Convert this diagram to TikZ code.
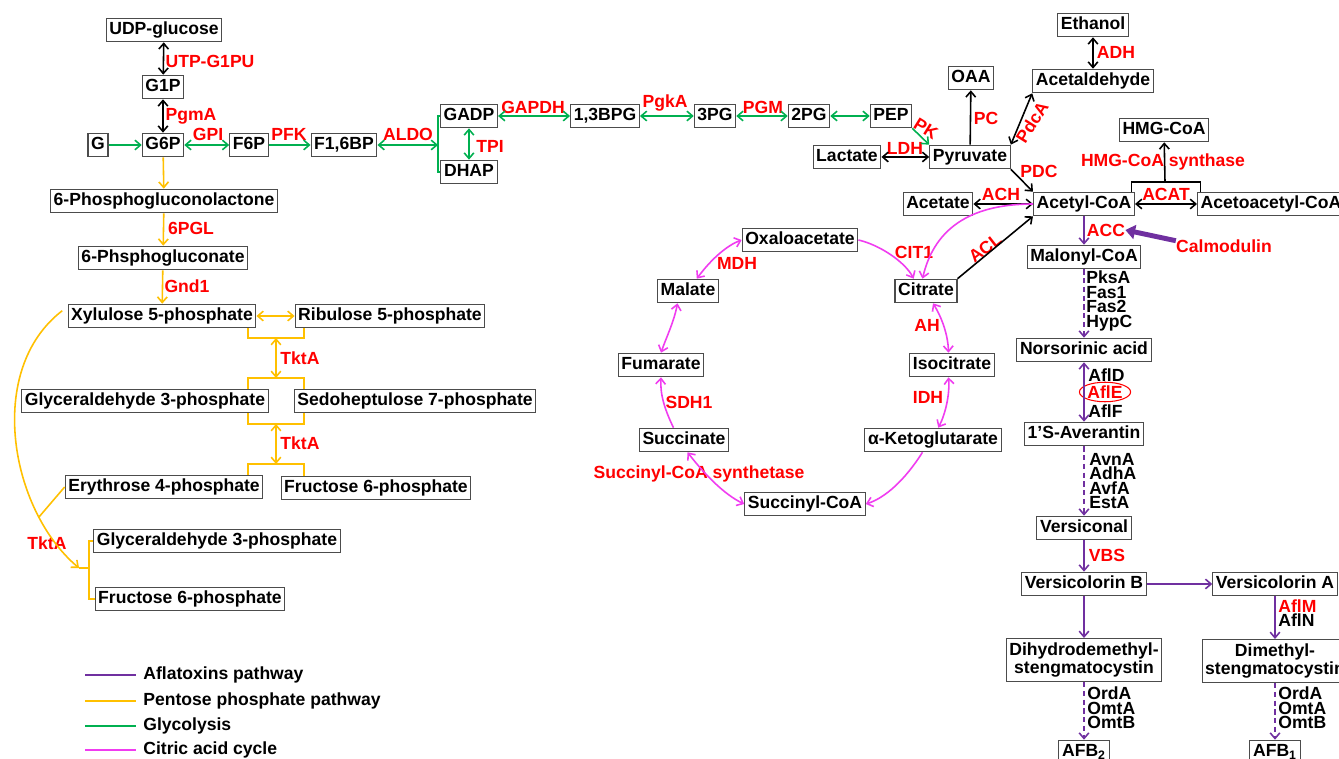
\documentclass[tikz,border=0pt]{standalone}
\usepackage{fontspec}
\setmainfont{Liberation Sans}
\usepackage{tikz}
\usetikzlibrary{shapes}
\usetikzlibrary{arrows.meta}
\usetikzlibrary{positioning}
\usetikzlibrary{calc}
\definecolor{glyc}{RGB}{0,176,80}
\definecolor{ppp}{RGB}{255,192,0}
\definecolor{tca}{RGB}{240,60,240}
\definecolor{afl}{RGB}{112,48,160}
\definecolor{enzred}{RGB}{255,0,0}
\newcommand{\figfont}{\fontsize{10}{12}\selectfont\bfseries}
\tikzstyle{metab}=[rectangle, draw=black!70, line width=0.6pt,
        inner xsep=1.8pt, inner ysep=2pt,
        text height=7.3pt, text depth=2.1pt, font=\figfont]
\tikzstyle{metabii}=[rectangle, draw=black!70, line width=0.6pt, align=center,
        inner xsep=1.8pt, inner ysep=2.3pt,
        font=\fontsize{10}{10.5}\selectfont\bfseries]
\tikzstyle{enz}=[text=enzred, inner sep=0pt, font=\figfont]
\tikzstyle{genes}=[align=left, anchor=west, inner sep=0pt,
        font=\fontsize{10}{8.2}\selectfont\bfseries]
\tikzstyle{flow}=[->,>={Straight Barb[length=3.2pt,width=5.5pt]},line width=0.9pt]
\tikzstyle{blackflow}=[flow,black]
\tikzstyle{glyflow}=[flow,glyc]
\tikzstyle{pppflow}=[flow,ppp]
\tikzstyle{tcaflow}=[flow,tca]
\tikzstyle{aflflow}=[flow,afl]
\tikzstyle{afldash}=[aflflow,dash pattern=on 3pt off 2pt]
\tikzstyle{calmod}=[-{Triangle[length=5.5pt,width=8pt]},afl,line width=2.8pt]
\tikzstyle{legtext}=[anchor=west,inner sep=0pt,font=\figfont]

\begin{document}
\begin{tikzpicture}[x=0.02cm,y=-0.02cm]
\path[use as bounding box,fill=white] (0,0) rectangle (1339,759);
% glycolysis and pyruvate
\node[metab] (UDPglc) at (164,30) {UDP-glucose};
\node[metab] (G1P) at (163,87) {G1P};
\node[metab] (G) at (98,145) {G};
\node[metab] (G6P) at (163,145) {G6P};
\node[metab] (F6P) at (249,145) {F6P};
\node[metab] (F16BP) at (344,145) {F1,6BP};
\node[metab] (GADP) at (469,116) {GADP};
\node[metab] (DHAP) at (469,172) {DHAP};
\node[metab] (BPG13) at (605,116) {1,3BPG};
\node[metab] (PG3) at (715,116) {3PG};
\node[metab] (PG2) at (809,116) {2PG};
\node[metab] (PEP) at (891,116) {PEP};
\node[metab] (Lac) at (847,157) {Lactate};
\node[metab] (Pyr) at (970,157) {Pyruvate};
\node[metab] (OAA) at (971,78) {OAA};
\node[metab] (EtOH) at (1093,25) {Ethanol};
\node[metab] (AcAld) at (1093,81) {Acetaldehyde};
\node[metab] (HMG) at (1164,130) {HMG-CoA};
\node[metab] (Acet) at (938,204) {Acetate};
\node[metab] (AcCoA) at (1084,204) {Acetyl-CoA};
\node[metab,anchor=west] (AcacCoA) at (1197,204) {Acetoacetyl-CoA};
% pentose phosphate pathway
\node[metab] (PGL6) at (164,201) {6-Phosphogluconolactone};
\node[metab] (PGA6) at (163,258) {6-Phsphogluconate};
\node[metab] (Xu5P) at (162,316) {Xylulose 5-phosphate};
\node[metab] (Ru5P) at (390,316) {Ribulose 5-phosphate};
\node[metab] (GA3P) at (145,401) {Glyceraldehyde 3-phosphate};
\node[metab] (S7P) at (415,401) {Sedoheptulose 7-phosphate};
\node[metab] (E4P) at (164,487) {Erythrose 4-phosphate};
\node[metab] (F6Pb) at (376,488) {Fructose 6-phosphate};
\node[metab] (GA3Pb) at (217,541) {Glyceraldehyde 3-phosphate};
\node[metab] (F6Pc) at (190,599) {Fructose 6-phosphate};
% citric acid cycle
\node[metab] (Oxa) at (800,240) {Oxaloacetate};
\node[metab] (Mal) at (688,291) {Malate};
\node[metab] (Cit) at (926,291) {Citrate};
\node[metab] (Fum) at (661,365) {Fumarate};
\node[metab] (Icit) at (952,365) {Isocitrate};
\node[metab] (Suc) at (684,440) {Succinate};
\node[metab] (AKG) at (933,440) {α-Ketoglutarate};
\node[metab] (SucCoA) at (805,504) {Succinyl-CoA};
% aflatoxins
\node[metab] (MalCoA) at (1084,257) {Malonyl-CoA};
\node[metab] (Nor) at (1084,350) {Norsorinic acid};
\node[metab] (Ave) at (1084,434) {1’S-Averantin};
\node[metab] (Ver) at (1084,528) {Versiconal};
\node[metab] (VerB) at (1084,584) {Versicolorin B};
\node[metab] (VerA) at (1275,584) {Versicolorin A};
\node[metabii] (DHDMST) at (1084,660) {Dihydrodemethyl-\\stengmatocystin};
\node[metabii] (DMST) at (1275,661) {Dimethyl-\\stengmatocystin};
\node[metab] (AFB2) at (1084,752) {AFB\textsubscript{2}};
\node[metab] (AFB1) at (1275,752) {AFB\textsubscript{1}};
% enzymes
\node[enz] (lUTP) at (210,61) {UTP-G1PU};
\node[enz] (lPgmA) at (191,116) {PgmA};
\node[enz] (lGPI) at (208,134) {GPI};
\node[enz] (lPFK) at (289,134) {PFK};
\node[enz] (lALDO) at (408,134) {ALDO};
\node[enz] (lTPI) at (490,146) {TPI};
\node[enz] (lGAPDH) at (533,107) {GAPDH};
\node[enz] (lPgkA) at (665,103) {PgkA};
\node[enz] (lPGM) at (763,107) {PGM};
\node[enz,rotate=-32] (lPK) at (926,129) {PK};
\node[enz] (lLDH) at (905,148) {LDH};
\node[enz] (lPC) at (986,118) {PC};
\node[enz,rotate=58] (lPdcA) at (1032,122) {PdcA};
\node[enz] (lADH) at (1116,52) {ADH};
\node[enz] (lPDC) at (1039,171) {PDC};
\node[enz] (lHMGS) at (1163,162) {HMG-CoA synthase};
\node[enz] (lACAT) at (1166,194) {ACAT};
\node[enz] (lACH) at (1001,194) {ACH};
\node[enz] (lACC) at (1106,230) {ACC};
\node[enz] (lCalm) at (1224,246) {Calmodulin};
\node[enz] (lCIT1) at (914,252) {CIT1};
\node[enz,rotate=38] (lACL) at (985,248) {ACL};
\node[enz] (lMDH) at (737,263) {MDH};
\node[enz] (lAH) at (927,325) {AH};
\node[enz] (lIDH) at (928,397) {IDH};
\node[enz] (lSDH1) at (689,402) {SDH1};
\node[enz] (lSCS) at (699,474) {Succinyl-CoA synthetase};
\node[enz] (l6PGL) at (191,228) {6PGL};
\node[enz] (lGnd1) at (187,286) {Gnd1};
\node[enz] (lTkt1) at (300,358) {TktA};
\node[enz] (lTkt2) at (300,443) {TktA};
\node[enz] (lTkt3) at (47,543) {TktA};
\node[enz] (lVBS) at (1107,555) {VBS};
\node[genes] (gPks) at (1086,301) {PksA\\Fas1\\Fas2\\HypC};
\node[genes] (gAflD) at (1088,375) {AflD};
\node[enz,ellipse,draw=enzred,line width=0.6pt,inner sep=0.3pt] (lAflE) at (1105,392) {AflE};
\node[genes] (gAflF) at (1088,411) {AflF};
\node[genes] (gAvn) at (1089,481) {AvnA\\AdhA\\AvfA\\EstA};
\node[genes] (gAflM) at (1278,613) {\color{enzred}AflM\\AflN};
\node[genes] (gOrd2) at (1087,708) {OrdA\\OmtA\\OmtB};
\node[genes] (gOrd1) at (1278,708) {OrdA\\OmtA\\OmtB};
% legend
\node[legtext] (legAfl) at (143,675) {Aflatoxins pathway};
\node[legtext] (legPpp) at (143,701) {Pentose phosphate pathway};
\node[legtext] (legGly) at (143,726) {Glycolysis};
\node[legtext] (legTca) at (143,750) {Citric acid cycle};
\draw[afl,line width=0.9pt] ([xshift=-4pt]legAfl.west) -- ++(-51,0);
\draw[ppp,line width=0.9pt] ([xshift=-4pt]legPpp.west) -- ++(-51,0);
\draw[glyc,line width=0.9pt] ([xshift=-4pt]legGly.west) -- ++(-51,0);
\draw[tca,line width=0.9pt] ([xshift=-4pt]legTca.west) -- ++(-51,0);
%Drawing Edges
\draw[blackflow,<->] (UDPglc) -- (G1P);
\draw[blackflow,<->] (G1P) -- (G6P);
\draw[glyflow] (G) -- (G6P);
\draw[glyflow,<->] (G6P) -- (F6P);
\draw[glyflow] (F6P) -- (F16BP);
\coordinate (aldo) at (438,145);
\draw[glyflow,<->] (F16BP) -- (aldo);
\draw[glyflow,-] (GADP.west) -| (aldo) |- (DHAP.west);
\draw[glyflow,<->] (GADP) -- (DHAP);
\draw[glyflow,<->] (GADP) -- (BPG13);
\draw[glyflow,<->] (BPG13) -- (PG3);
\draw[glyflow,<->] (PG3) -- (PG2);
\draw[glyflow,<->] (PG2) -- (PEP);
\draw[glyflow] (PEP.south east) -- (Pyr.north west);
\draw[blackflow,<->] (Lac) -- (Pyr);
\draw[blackflow] (Pyr) -- (OAA);
\draw[blackflow,<->] (Pyr.north east) -- (AcAld.south west);
\draw[blackflow,<->] (EtOH) -- (AcAld);
\draw[blackflow] (Pyr.south east) -- (AcCoA.north west);
\draw[blackflow,<->] (Acet) -- (AcCoA);
\draw[blackflow,<->] (AcCoA) -- (AcacCoA);
\coordinate (acat) at (1165,182);
\draw[blackflow,-] ([xshift=-2pt]AcCoA.north east) |- (acat) -| ([xshift=2pt]AcacCoA.north west);
\draw[blackflow] (acat) -- (HMG);
\draw[blackflow] (Cit.north east) -- (AcCoA.south west);
% pentose edges
\draw[pppflow] (G6P) -- (PGL6);
\draw[pppflow] (PGL6) -- (PGA6);
\draw[pppflow] (PGA6) -- (Xu5P);
\draw[pppflow,<->] (Xu5P) -- (Ru5P);
\coordinate (tkl) at (248,0);
\coordinate (tkr) at (304,0);
\coordinate (tk1a) at (276,338);
\coordinate (tk1b) at (276,378);
\coordinate (tk2a) at (276,424);
\coordinate (tk2b) at (276,464);
\draw[pppflow,-] (Xu5P.south -| tkl) |- (tk1a) -| (Ru5P.south -| tkr);
\draw[pppflow,<->] (tk1a) -- (tk1b);
\draw[pppflow,-] (GA3P.north -| tkl) |- (tk1b) -| (S7P.north -| tkr);
\draw[pppflow,-] (GA3P.south -| tkl) |- (tk2a) -| (S7P.south -| tkr);
\draw[pppflow,<->] (tk2a) -- (tk2b);
\draw[pppflow,-] (E4P.north -| tkl) |- (tk2b) -| (F6Pb.north -| tkr);
\coordinate (tkjoin) at (39,517);
\coordinate (tkarr) at (79,568);
\coordinate (tk3) at (89,568);
\draw[pppflow] ([xshift=-3pt,yshift=3pt]Xu5P.west) .. controls (-15,370) and (10,510) .. (tkarr);
\draw[pppflow,-] (E4P.west) -- (tkjoin);
\draw[pppflow,-] (tkarr) -- (tk3);
\draw[pppflow,-] (GA3Pb.west) -| (tk3) |- (F6Pc.west);
% citric acid cycle edges
\draw[tcaflow] (AcCoA.west) .. controls (975,204) and (935,225) .. ([xshift=-2pt]Cit.north);
\draw[tcaflow] (Oxa.east) .. controls (880,245) and (905,262) .. ([xshift=-7pt]Cit.north);
\draw[tcaflow,<->] ([xshift=5pt]Mal.north) .. controls (712,258) and (728,245) .. (Oxa.west);
\draw[tcaflow,<->] ([xshift=-6pt]Mal.south) .. controls (674,322) and (666,338) .. (Fum.north);
\draw[tcaflow] ([xshift=-6pt]Suc.north) .. controls (665,410) and (660,395) .. (Fum.south);
\draw[tcaflow,<->] ([xshift=2pt]Suc.south) .. controls (705,475) and (725,495) .. (SucCoA.west);
\draw[tcaflow] ([xshift=-6pt]AKG.south) .. controls (905,480) and (885,498) .. (SucCoA.east);
\draw[tcaflow,<->] ([xshift=4pt]Cit.south) .. controls (942,318) and (948,335) .. ([xshift=-2pt]Icit.north);
\draw[tcaflow,<->] ([xshift=-2pt]Icit.south) .. controls (950,395) and (945,415) .. ([xshift=3pt]AKG.north);
% aflatoxin edges
\draw[aflflow] (AcCoA) -- (MalCoA);
\draw[afldash] (MalCoA) -- (Nor);
\draw[aflflow,<->] (Nor) -- (Ave);
\draw[afldash] (Ave) -- (Ver);
\draw[aflflow] (Ver) -- (VerB);
\draw[aflflow] (VerB) -- (VerA);
\draw[aflflow] (VerB) -- (DHDMST);
\draw[aflflow] (VerA) -- (DMST);
\draw[afldash] (DHDMST) -- (AFB2);
\draw[afldash] (DMST) -- (AFB1);
\draw[calmod] ([yshift=3pt]lCalm.west) -- (lACC.east);
\end{tikzpicture}
\end{document}
